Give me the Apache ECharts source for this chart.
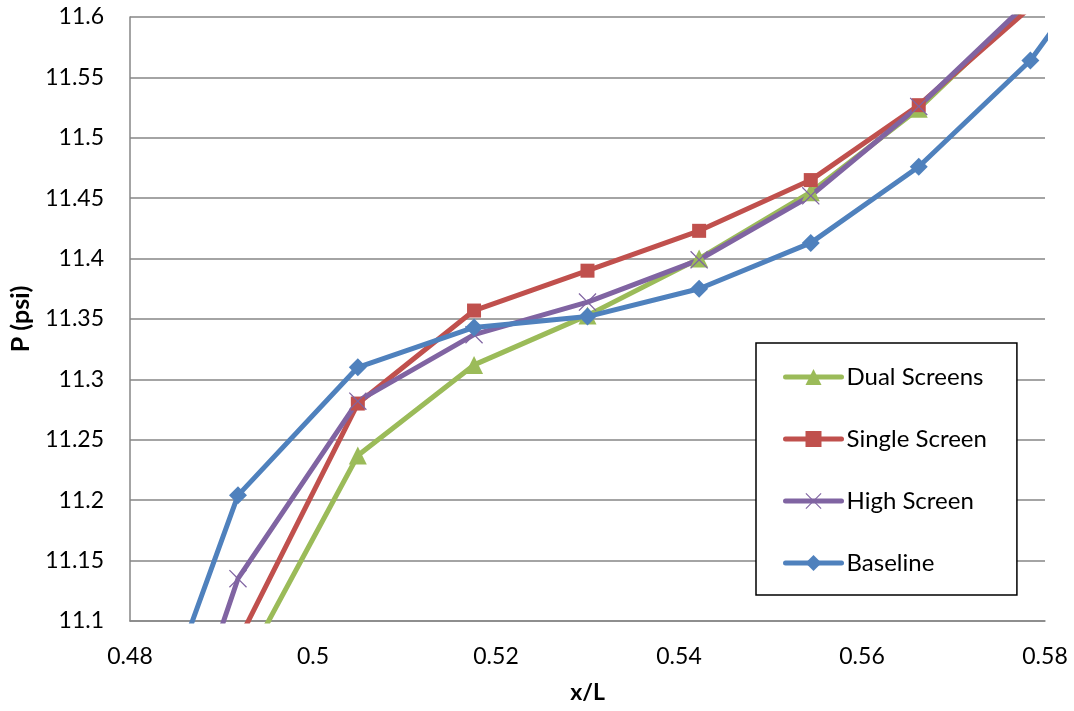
<!DOCTYPE html>
<html>
<head>
<meta charset="utf-8">
<script src="https://cdn.jsdelivr.net/npm/echarts@6/dist/echarts.min.js"></script>
<style>
  html, body { margin: 0; padding: 0; background: #fff; }
  #chart { width: 1074px; height: 711px; }
</style>
</head>
<body>
<div id="chart"></div>
<script>
// x/L positions of the data points (first and last lie outside the visible axis range)
const xValues = [0.4795, 0.4918, 0.5049, 0.5176, 0.5300, 0.5422, 0.5544, 0.5662, 0.5784, 0.5906];

const dualScreens  = [null,   11.053, 11.237, 11.312, 11.353, 11.400, 11.455, 11.524, 11.612, null];
const singleScreen = [null,   11.083, 11.280, 11.357, 11.390, 11.423, 11.465, 11.527, 11.608, null];
const highScreen   = [10.860, 11.135, 11.282, 11.337, 11.364, 11.399, 11.452, 11.526, 11.614, null];
const baseline     = [10.947, 11.204, 11.310, 11.343, 11.352, 11.375, 11.413, 11.476, 11.564, 11.691];

const seriesNames = ['Dual Screens', 'Single Screen', 'High Screen', 'Baseline'];
const xTicks = { min: 0.48, max: 0.58, interval: 0.02 };
const yTicks = { min: 11.1, max: 11.6, interval: 0.05 };

const FONT = 'Lato, "Open Sans", sans-serif';
const xPath = 'path://M0,1 L1,0 L10,9 L19,0 L20,1 L11,10 L20,19 L19,20 L10,11 L1,20 L0,19 L9,10 Z';

function pairs(ys) {
  return xValues.map((x, i) => [x, ys[i]]);
}

function makeSeries(name, ys, color, symbol, size) {
  return {
    name: name,
    type: 'line',
    data: pairs(ys),
    symbol: symbol,
    symbolSize: size,
    showAllSymbol: true,
    clip: true,
    connectNulls: false,
    lineStyle: { color: color, width: 5, join: 'round', cap: 'round' },
    itemStyle: { color: color },
    emphasis: { disabled: true },
    animation: false
  };
}

const chart = echarts.init(document.getElementById('chart'), null, { renderer: 'canvas' });
chart.setOption({
  backgroundColor: '#ffffff',
  animation: false,
  grid: { left: 130, right: 29, top: 17, bottom: 90, containLabel: false },
  xAxis: {
    type: 'value',
    min: xTicks.min, max: xTicks.max, interval: xTicks.interval,
    name: 'x/L',
    nameLocation: 'middle',
    nameGap: 60,
    nameTextStyle: { fontFamily: FONT, fontSize: 23, fontWeight: 'bold', color: '#000' },
    axisLine: { show: true, lineStyle: { color: '#868686', width: 1.5 } },
    axisTick: { show: false },
    splitLine: { show: false },
    axisLabel: { fontFamily: FONT, fontSize: 23, color: '#000', margin: 24 }
  },
  yAxis: {
    type: 'value',
    min: yTicks.min, max: yTicks.max, interval: yTicks.interval,
    name: 'P (psi)',
    nameLocation: 'middle',
    nameGap: 97,
    nameTextStyle: { fontFamily: FONT, fontSize: 25, fontWeight: 'bold', color: '#000' },
    axisLine: { show: true, lineStyle: { color: '#868686', width: 1.5 } },
    axisTick: { show: false },
    splitLine: { show: true, lineStyle: { color: '#868686', width: 1.5 } },
    axisLabel: { fontFamily: FONT, fontSize: 23, color: '#000', margin: 26 }
  },
  legend: {
    orient: 'vertical',
    left: 756,
    top: 343,
    padding: [22, 30, 20, 27],
    itemGap: 38,
    itemWidth: 56,
    itemHeight: 20,
    borderColor: '#000',
    borderWidth: 1.5,
    backgroundColor: '#fff',
    data: seriesNames,
    lineStyle: { width: 5, cap: 'round' },
    textStyle: { fontFamily: FONT, fontSize: 24, color: '#000', lineHeight: 22 }
  },
  series: [
    makeSeries(seriesNames[0], dualScreens, '#9BBB59', 'triangle', 18),
    makeSeries(seriesNames[1], singleScreen, '#C0504D', 'rect', 14),
    makeSeries(seriesNames[2], highScreen, '#8064A2', xPath, 18),
    makeSeries(seriesNames[3], baseline, '#4F81BD', 'diamond', 18)
  ]
});
</script>
</body>
</html>
